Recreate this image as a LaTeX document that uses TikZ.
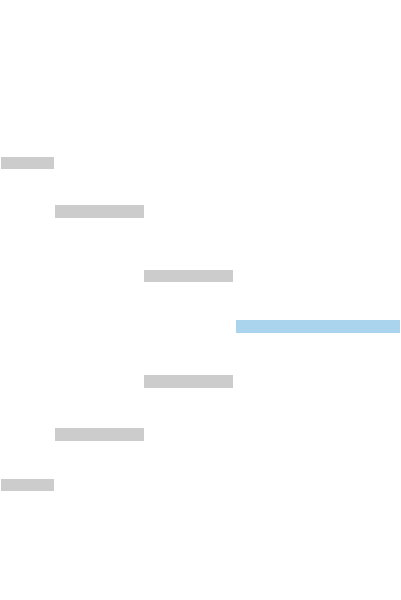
\documentclass[tikz,border=0pt]{standalone}
\definecolor{bargray}{RGB}{204,204,204}
\definecolor{barblue}{RGB}{170,212,238}
\tikzset{
  graybar/.style={fill=bargray, draw=white, line width=0.5pt},
  bluebar/.style={fill=barblue, draw=white, line width=0.5pt}
}
\begin{document}
\begin{tikzpicture}[x=1pt,y=-1pt]
\useasboundingbox (0,0) rectangle (400,600);
\fill[white] (0,0) rectangle (400,600);
\draw[graybar] (0,156.5) rectangle (54,169.5);
\draw[graybar] (54,204.5) rectangle (144,218);
\draw[graybar] (143.5,269.5) rectangle (233.5,282.5);
\draw[bluebar] (235.5,319.5) rectangle (400.5,333);
\draw[graybar] (143.5,374.5) rectangle (233.5,388);
\draw[graybar] (54,427.5) rectangle (144,441);
\draw[graybar] (0,478) rectangle (54,491.5);
\end{tikzpicture}
\end{document}
